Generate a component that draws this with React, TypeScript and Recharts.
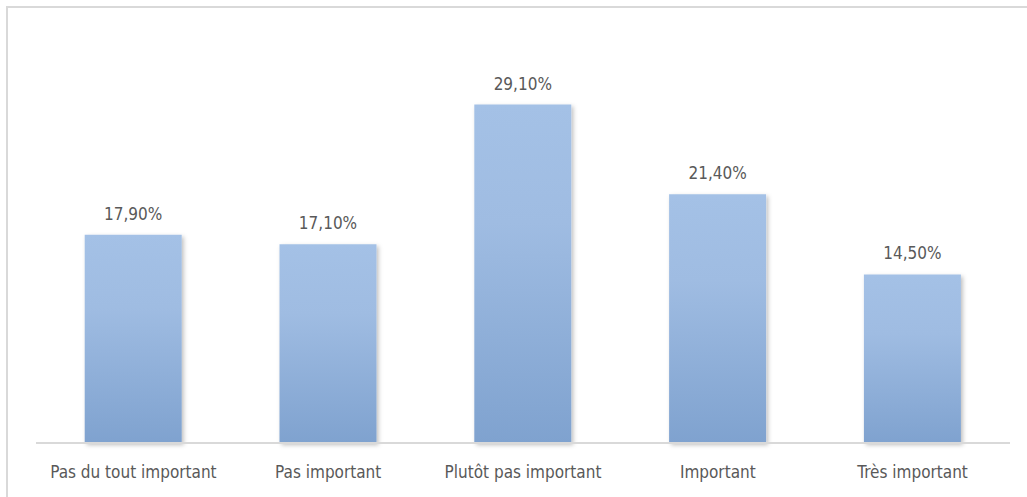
import { BarChart, Bar, XAxis, YAxis, LabelList } from "recharts";

const categories = [
  "Pas du tout important",
  "Pas important",
  "Plutôt pas important",
  "Important",
  "Très important",
];
const percentages = [17.9, 17.1, 29.1, 21.4, 14.5];

const chartData = categories.map((name, i) => ({ name, value: percentages[i] }));

const FONT = "'DejaVu Sans Condensed', 'Liberation Sans Narrow', sans-serif";

const formatPct = (v: number) => v.toFixed(2).replace(".", ",") + "%";

export default function App() {
  return (
    <div style={{ position: "absolute", left: 0, top: 0, width: 1027, height: 497, background: "#fff", overflow: "hidden" }}>
      {/* outer frame, right and bottom edges run off the picture */}
      <div
        style={{
          position: "absolute",
          left: 6,
          top: 6,
          width: 1040,
          height: 520,
          border: "2px solid #d9d9d9",
          boxSizing: "border-box",
        }}
      />
      <BarChart
        width={1027}
        height={497}
        data={chartData}
        margin={{ top: 36, right: 17, left: 36, bottom: 0 }}
        barCategoryGap="25%"
        style={{ position: "absolute", left: 0, top: 0 }}
      >
        <defs>
          <linearGradient id="barFill" x1="0" y1="0" x2="0" y2="1">
            <stop offset="0%" stopColor="#a4c1e6" />
            <stop offset="35%" stopColor="#9fbce2" />
            <stop offset="100%" stopColor="#7fa2cf" />
          </linearGradient>
          <filter id="barShadow" x="-10%" y="-10%" width="125%" height="125%">
            <feDropShadow dx="2" dy="2" stdDeviation="2" floodColor="#000" floodOpacity="0.25" />
          </filter>
        </defs>
        <XAxis
          dataKey="name"
          height={54}
          tickLine={false}
          axisLine={{ stroke: "#d9d9d9", strokeWidth: 2 }}
          tick={{ fill: "#595959", fontSize: 17, fontFamily: FONT }}
          tickMargin={17}
          interval={0}
        />
        <YAxis hide domain={[0, 35]} />
        <Bar dataKey="value" fill="url(#barFill)" filter="url(#barShadow)" isAnimationActive={false}>
          <LabelList
            dataKey="value"
            position="top"
            offset={15}
            formatter={(v: any) => formatPct(Number(v))}
            style={{ fill: "#595959", fontSize: 17, fontFamily: FONT }}
          />
        </Bar>
      </BarChart>
    </div>
  );
}
